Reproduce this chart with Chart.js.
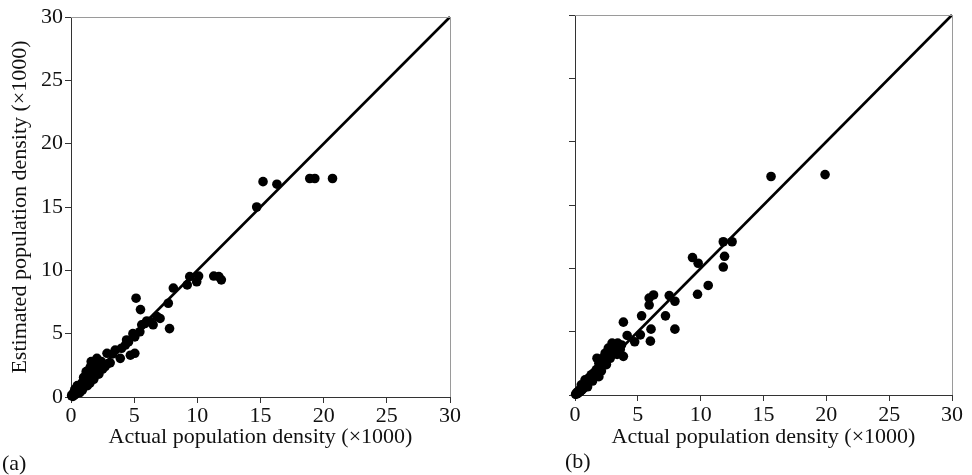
<!DOCTYPE html>
<html>
<head>
<meta charset="utf-8">
<script src="https://cdn.jsdelivr.net/npm/chart.js@4.4.1/dist/chart.umd.min.js"></script>
<style>
  body { margin: 0; background: #fff; }
  #wrap { position: relative; width: 972px; height: 475px; overflow: hidden; }
  .box { position: absolute; top: 0; height: 475px; }
  .tag { position: absolute; font-family: 'Liberation Serif', serif; font-size: 22px; color: #111; }
</style>
</head>
<body>
<div id="wrap">
  <div class="box" style="left:0;width:480px"><canvas id="chartA"></canvas></div>
  <div class="box" style="left:490px;width:482px"><canvas id="chartB"></canvas></div>
  <div class="tag" style="left:2px;top:450px">(a)</div>
  <div class="tag" style="left:565px;top:448px">(b)</div>
</div>
<script>
// axis ticks (x1000)
var tickValues = [0, 5, 10, 15, 20, 25, 30];
var identityLine = [0, 30];

// panel (a): actual vs estimated density
var actualA = [0.05,0.1,0.15,0.2,0.25,0.3,0.35,0.4,0.45,0.5,
  0.55,0.6,0.65,0.7,0.75,0.8,0.85,0.9,0.95,1.0,
  1.05,1.1,1.15,1.2,1.25,1.3,1.35,1.4,1.45,1.5,
  1.55,1.6,1.65,1.7,1.75,1.8,1.9,2.0,2.05,2.2,
  2.4,2.7,2.85,2.95,3.3,3.5,3.9,4.0,4.3,4.4,
  4.55,4.7,4.9,5.05,5.05,5.15,5.45,5.5,5.6,5.85,
  6.0,6.25,6.5,6.8,7.05,7.7,7.8,8.1,9.2,9.4,
  9.95,10.1,11.3,11.7,11.9,14.7,15.2,16.3,18.9,19.3,
  20.7,0.5,0.9,1.0,1.3,1.5,1.8,2.2,1.2,1.6,
  2.5,3.1,0.3,0.7];
var estimatedA = [0.1,0.2,0.05,0.3,0.15,0.35,0.2,0.5,0.3,0.6,
  0.4,0.75,0.5,0.9,0.6,1.0,0.7,1.15,0.85,1.3,
  0.95,1.45,1.05,1.6,1.2,1.8,1.3,2.0,1.45,2.3,
  1.6,2.5,1.8,2.2,1.95,2.6,2.1,2.4,3.05,2.5,
  2.8,2.4,3.45,2.65,3.4,3.7,3.05,3.85,4.1,4.5,
  4.35,3.3,5.0,4.75,3.45,7.8,5.15,6.9,5.7,5.8,
  6.0,5.95,5.7,6.35,6.2,7.4,5.4,8.6,8.85,9.5,
  9.1,9.55,9.55,9.5,9.25,15.0,17.0,16.8,17.25,17.25,
  17.25,0.9,0.55,1.55,0.9,1.1,1.4,1.8,2.0,2.8,
  2.2,2.7,0.6,0.35];

// panel (b)
var actualB = [0.05,0.1,0.15,0.2,0.25,0.3,0.35,0.4,0.45,0.5,
  0.55,0.6,0.65,0.7,0.75,0.8,0.85,0.9,0.95,1.0,
  1.05,1.1,1.2,1.3,1.4,1.5,1.6,1.7,1.75,1.9,
  2.0,2.1,2.3,2.4,2.5,2.65,2.8,2.95,3.1,3.35,
  3.4,3.6,3.7,3.85,3.85,4.15,4.75,5.2,5.3,5.9,
  5.9,6.0,6.05,6.25,7.2,7.5,7.95,7.95,9.35,9.75,
  9.8,10.6,11.8,11.8,11.9,12.5,15.6,19.9,0.5,1.0,
  1.4,1.9,2.2,2.7,3.0,3.2,0.8];
var estimatedB = [0.05,0.15,0.1,0.25,0.15,0.3,0.25,0.45,0.3,0.55,
  0.4,0.7,0.5,0.8,0.6,0.95,0.7,1.1,0.85,1.2,
  1.0,1.35,1.15,1.6,1.3,1.75,1.5,2.0,2.9,1.45,
  2.2,1.9,2.6,3.3,2.4,3.7,2.9,4.1,3.4,3.2,
  4.1,3.6,3.95,3.05,5.75,4.7,4.2,4.75,6.25,7.1,
  7.65,4.25,5.2,7.9,6.25,7.85,7.4,5.2,10.85,7.95,
  10.4,8.65,12.1,10.1,10.95,12.1,17.25,17.4,0.8,0.65,
  1.1,2.5,2.9,3.1,3.6,3.8,1.2];

var serif = 'Liberation Serif';
var xTitle = 'Actual population density (\u00d71000)';
var yTitle = 'Estimated population density (\u00d71000)';

// gray top and right edge of the plot box
var framePlugin = {
  id: 'frame',
  afterDatasetsDraw: function(chart) {
    var a = chart.chartArea, c = chart.ctx;
    c.save();
    c.strokeStyle = '#9a9a9a';
    c.lineWidth = 1;
    c.beginPath();
    c.moveTo(a.left, a.top + 0.5);
    c.lineTo(a.right + 0.5, a.top + 0.5);
    c.lineTo(a.right + 0.5, a.bottom);
    c.stroke();
    c.restore();
  }
};

function makePanel(id, xs, ys, cfg) {
  var pts = xs.map(function(v, i) { return {x: v, y: ys[i]}; });
  var diag = identityLine.map(function(v) { return {x: v, y: v}; });
  return new Chart(document.getElementById(id), {
    type: 'scatter',
    data: {
      datasets: [{
        data: pts,
        backgroundColor: '#000',
        borderColor: '#000',
        pointRadius: 4.8,
        pointHoverRadius: 4.8,
        borderWidth: 0,
        clip: false
      }, {
        type: 'line',
        data: diag,
        borderColor: '#000',
        borderWidth: 2.6,
        pointRadius: 0,
        fill: false,
        clip: false
      }]
    },
    options: {
      responsive: true,
      maintainAspectRatio: false,
      animation: false,
      events: [],
      layout: { padding: cfg.padding },
      plugins: { legend: { display: false }, tooltip: { enabled: false } },
      scales: {
        x: {
          type: 'linear', min: 0, max: 30,
          afterFit: function(s) { s.height = cfg.xHeight; },
          afterBuildTicks: function(s) { s.ticks = tickValues.map(function(v) { return {value: v}; }); },
          grid: { drawOnChartArea: false, drawTicks: true, tickLength: 6, color: '#333' },
          border: { display: true, color: '#333', width: 1 },
          ticks: { padding: cfg.xPad, color: '#111', font: { family: serif, size: 22 }, maxRotation: 0 },
          title: { display: true, text: xTitle, color: '#111', font: { family: serif, size: 22 }, padding: { top: 0, bottom: 25 } }
        },
        y: {
          type: 'linear', min: 0, max: 30,
          afterFit: function(s) { s.width = cfg.yWidth; },
          afterBuildTicks: function(s) { s.ticks = tickValues.map(function(v) { return {value: v}; }); },
          grid: { drawOnChartArea: false, drawTicks: true, tickLength: 6, color: '#333' },
          border: { display: true, color: '#333', width: 1 },
          ticks: { display: cfg.yLabels, padding: 2, color: '#111', font: { family: serif, size: 22 } },
          title: { display: cfg.yLabels, text: yTitle, color: '#111', font: { family: serif, size: 22 }, padding: { top: 7, bottom: 0 } }
        }
      }
    },
    plugins: [framePlugin]
  });
}

makePanel('chartA', actualA, estimatedA, {
  padding: { top: 17, right: 30, bottom: 0, left: 0 },
  xHeight: 78, yWidth: 71, xPad: 0, yLabels: true
});
makePanel('chartB', actualB, estimatedB, {
  padding: { top: 15, right: 20, bottom: 0, left: 0 },
  xHeight: 80, yWidth: 85, xPad: 1, yLabels: false
});
</script>
</body>
</html>
